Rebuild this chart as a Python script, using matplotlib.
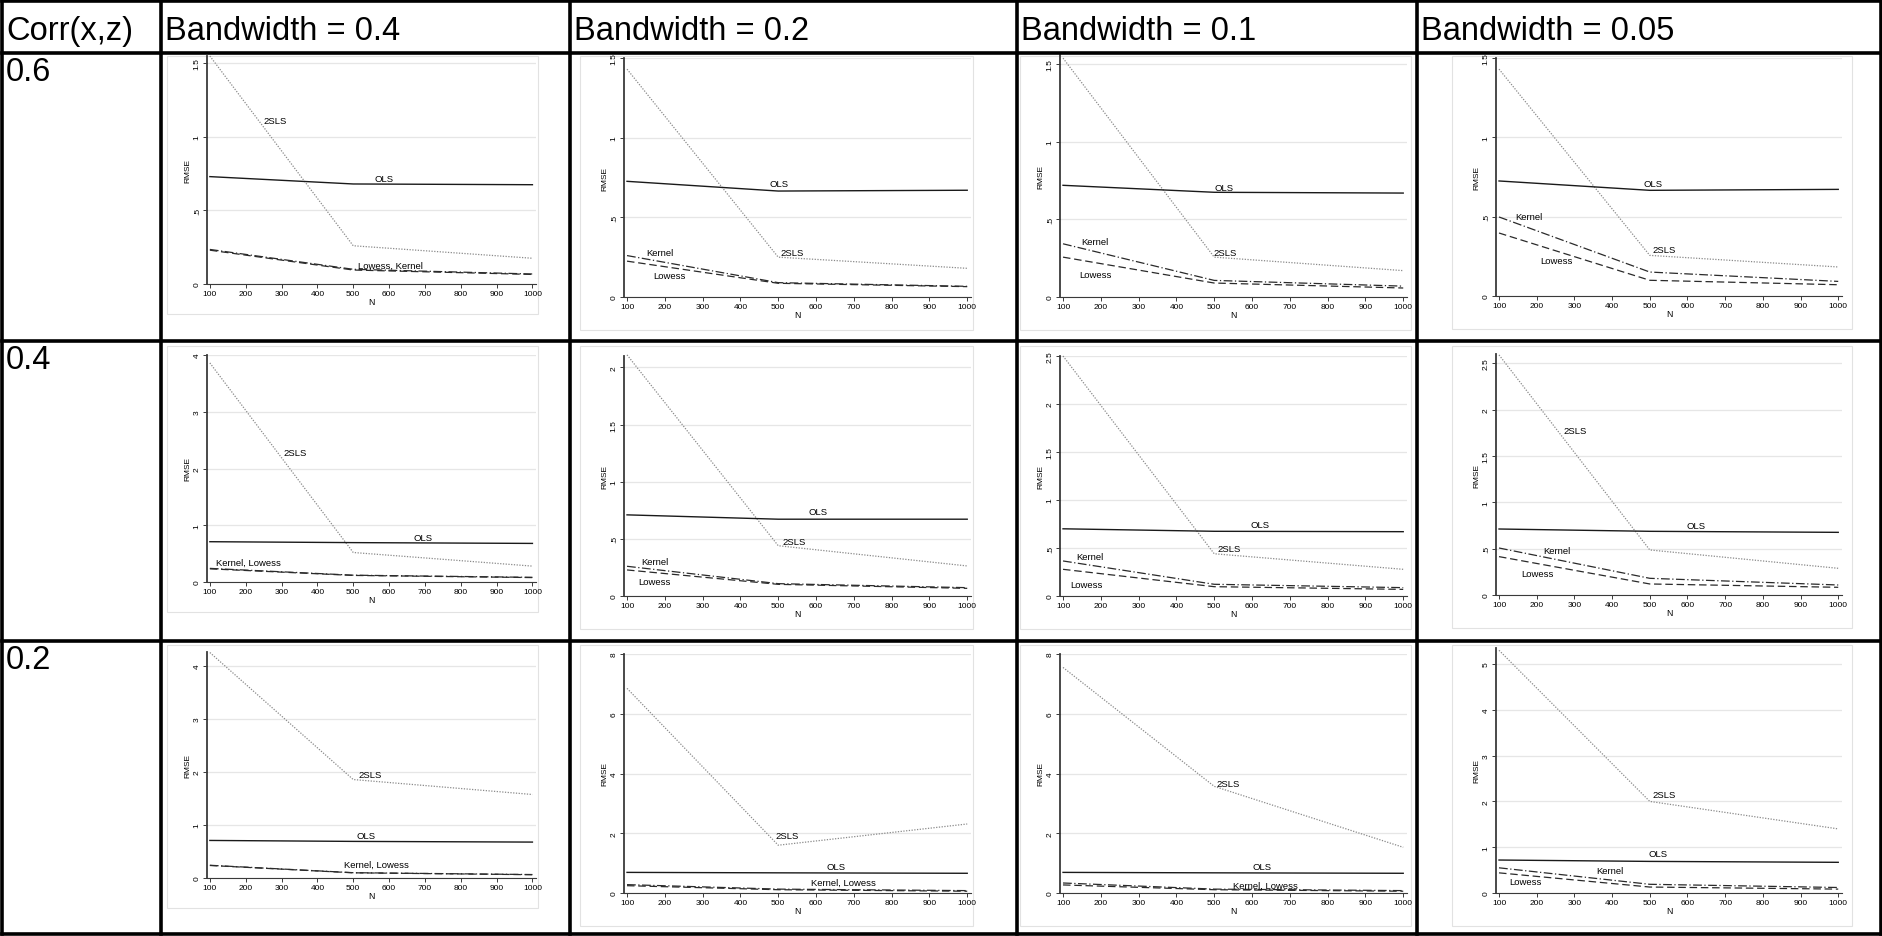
"""RMSE by sample size: grid of Stata-style panels inside a bordered table"""
import matplotlib
matplotlib.use('Agg')
import matplotlib.pyplot as plt
from matplotlib.lines import Line2D
from matplotlib.patches import Rectangle
from matplotlib.ticker import FuncFormatter

plt.rcParams['font.family'] = ['Liberation Sans', 'DejaVu Sans']

# ---- data (rows: Corr(x,z) = .6, .4, .2 ; cols: bandwidth .4, .2, .1, .05)
sample_n = [100, 500, 1000]
corr_labels = ['0.6', '0.4', '0.2']
bandwidth_labels = ['Bandwidth = 0.4', 'Bandwidth = 0.2',
                    'Bandwidth = 0.1', 'Bandwidth = 0.05']

tsls_rmse = [
    [[1.55, 0.26, 0.175], [1.43, 0.25, 0.18], [1.54, 0.257, 0.17], [1.43, 0.256, 0.183]],
    [[3.86, 0.52, 0.28], [2.11, 0.44, 0.263], [2.50, 0.44, 0.278], [2.59, 0.486, 0.288]],
    [[4.25, 1.856, 1.574], [6.85, 1.60, 2.31], [7.55, 3.57, 1.53], [5.30, 2.00, 1.40]],
]
ols_rmse = [
    [[0.73, 0.68, 0.675], [0.726, 0.665, 0.67], [0.72, 0.675, 0.67], [0.725, 0.666, 0.672]],
    [[0.71, 0.694, 0.68], [0.71, 0.672, 0.672], [0.70, 0.674, 0.67], [0.712, 0.687, 0.676]],
    [[0.708, 0.69, 0.677], [0.69, 0.675, 0.66], [0.69, 0.675, 0.66], [0.72, 0.69, 0.67]],
]
kernel_rmse = [
    [[0.235, 0.10, 0.068], [0.26, 0.09, 0.067], [0.343, 0.107, 0.07], [0.498, 0.151, 0.092]],
    [[0.24, 0.12, 0.082], [0.26, 0.108, 0.073], [0.365, 0.122, 0.087], [0.507, 0.18, 0.108]],
    [[0.24, 0.10, 0.065], [0.28, 0.13, 0.08], [0.335, 0.13, 0.08], [0.55, 0.19, 0.12]],
]
lowess_rmse = [
    [[0.23, 0.095, 0.065], [0.225, 0.086, 0.065], [0.257, 0.09, 0.058], [0.397, 0.099, 0.071]],
    [[0.232, 0.116, 0.078], [0.228, 0.102, 0.067], [0.278, 0.097, 0.069], [0.414, 0.119, 0.083]],
    [[0.236, 0.098, 0.062], [0.245, 0.11, 0.06], [0.27, 0.11, 0.06], [0.44, 0.13, 0.085]],
]

# ---- layout (pixels of the 1883x937 output)
W, H = 1883, 937


def fx(x):
    return x / W


def fy(y):
    return 1 - y / H


table_x = [2, 161, 570, 1017, 1417, 1881]
table_y = [2, 54, 342, 642, 935]

axes_x = [(207, 536), (624, 971), (1060, 1407), (1496, 1842)]
frame_x = [(167, 538), (580, 973), (1020, 1411), (1452, 1852)]
frame_top = [57, 347, 646]
# (bottom px, top px, ymax, ytick step)
axes_y = [
    [(285, 57, 1.55, 0.5), (298, 59, 1.5, 0.5), (298, 56, 1.56, 0.5), (297, 59, 1.5, 0.5)],
    [(583, 356, 4.0, 1), (597, 357, 2.1, 0.5), (597, 357, 2.5, 0.5), (596, 355, 2.6, 0.5)],
    [(879, 653, 4.26, 1), (894, 655, 8.0, 2), (894, 655, 8.0, 2), (894, 649, 5.35, 1)],
]
# text labels next to the lines, in data coordinates
line_labels = [
    [[('2SLS', 282, 1.11), ('OLS', 587, 0.72), ('Lowess, Kernel', 604, 0.125)],
     [('Kernel', 186, 0.28), ('Lowess', 213, 0.136), ('OLS', 503, 0.71), ('2SLS', 538, 0.28)],
     [('Kernel', 184, 0.36), ('Lowess', 186, 0.146), ('OLS', 526, 0.707), ('2SLS', 530, 0.29)],
     [('Kernel', 180, 0.5), ('Lowess', 252, 0.225), ('OLS', 509, 0.71), ('2SLS', 538, 0.294)]],
    [[('2SLS', 338, 2.28), ('OLS', 694, 0.78), ('Kernel, Lowess', 207, 0.35)],
     [('Kernel', 173, 0.3), ('Lowess', 173, 0.123), ('OLS', 605, 0.74), ('2SLS', 541, 0.48)],
     [('Kernel', 171, 0.41), ('Lowess', 162, 0.12), ('OLS', 622, 0.74), ('2SLS', 539, 0.49)],
     [('2SLS', 303, 1.77), ('OLS', 622, 0.75), ('Kernel', 254, 0.48), ('Lowess', 203, 0.23)]],
    [[('2SLS', 546, 1.95), ('OLS', 535, 0.8), ('Kernel, Lowess', 565, 0.25)],
     [('2SLS', 524, 1.92), ('OLS', 654, 0.9), ('Kernel, Lowess', 672, 0.36)],
     [('2SLS', 537, 3.68), ('OLS', 627, 0.89), ('Kernel, Lowess', 636, 0.27)],
     [('2SLS', 538, 2.15), ('OLS', 522, 0.87), ('Kernel', 395, 0.49), ('Lowess', 171, 0.26)]],
]


def stata_fmt(v, pos):
    s = '%g' % round(v, 3)
    if s.startswith('0.'):
        s = s[1:]
    return s


fig = plt.figure(figsize=(W / 100, H / 100), dpi=100)
fig.patch.set_facecolor('white')

# Stata graph frames and panels
for r in range(3):
    for c in range(4):
        b_px, t_px, ymax, step = axes_y[r][c]
        fl, fr = frame_x[c]
        ft = frame_top[r]
        fb = b_px + (30 if c == 0 else 33)
        fig.add_artist(Rectangle((fx(fl), fy(fb)), (fr - fl) / W, (fb - ft) / H,
                                 transform=fig.transFigure, facecolor='white',
                                 edgecolor='#e2e2e2', lw=0.8, zorder=0))

        l_px, r_px = axes_x[c]
        ax = fig.add_axes([fx(l_px), fy(b_px), (r_px - l_px) / W, (b_px - t_px) / H])
        ax.set_xlim(92, 1010)
        ax.set_ylim(0, ymax)

        ax.plot(sample_n, tsls_rmse[r][c], color='#8a8a8a', lw=0.9,
                ls=(0, (1, 1.2)), clip_on=False)
        ax.plot(sample_n, ols_rmse[r][c], color='#1a1a1a', lw=1.0, clip_on=False)
        ax.plot(sample_n, kernel_rmse[r][c], color='#2a2a2a', lw=0.9,
                ls=(0, (7, 2, 1, 2)), clip_on=False)
        ax.plot(sample_n, lowess_rmse[r][c], color='#2a2a2a', lw=0.9,
                ls=(0, (6, 3)), clip_on=False)

        for txt, x, y in line_labels[r][c]:
            ax.text(x, y, txt, fontsize=6.8, ha='center', va='center')

        ticks = []
        v = 0.0
        while v <= ymax + 1e-9:
            ticks.append(round(v, 3))
            v += step
        ax.set_yticks(ticks)
        ax.yaxis.set_major_formatter(FuncFormatter(stata_fmt))
        ax.set_xticks(range(100, 1001, 100))

        ax.yaxis.grid(True, color='#e6e6e6', lw=0.9)
        ax.set_axisbelow(True)
        for side in ('top', 'right'):
            ax.spines[side].set_visible(False)
        ax.spines['left'].set_color('#3a3a3a')
        ax.spines['left'].set_linewidth(1.3)
        ax.spines['bottom'].set_color('#3a3a3a')
        ax.spines['bottom'].set_linewidth(0.8)

        ax.tick_params(axis='both', direction='out', length=3, width=0.7,
                       color='#3a3a3a', labelsize=6, pad=1.5)
        for lab in ax.get_yticklabels():
            lab.set_rotation(90)
            lab.set_va('center')
        ax.set_ylabel('RMSE', fontsize=6, labelpad=2)
        ax.set_xlabel('N', fontsize=6.3, labelpad=0)
        ax.patch.set_alpha(0)

# table grid
for y in table_y:
    fig.add_artist(Line2D([fx(table_x[0]), fx(table_x[-1])], [fy(y), fy(y)],
                          transform=fig.transFigure, color='black', lw=2.6,
                          solid_capstyle='projecting'))
for x in table_x:
    fig.add_artist(Line2D([fx(x), fx(x)], [fy(table_y[0]), fy(table_y[-1])],
                          transform=fig.transFigure, color='black', lw=2.6,
                          solid_capstyle='projecting'))

# header and row labels
fig.text(fx(table_x[0] + 4), fy(40), 'Corr(x,z)', fontsize=23.5,
         va='baseline', ha='left')
for c, lab in enumerate(bandwidth_labels):
    fig.text(fx(table_x[c + 1] + 4), fy(40), lab, fontsize=23.5,
             va='baseline', ha='left')
for r, lab in enumerate(corr_labels):
    fig.text(fx(table_x[0] + 4), fy(table_y[r + 1] + 27), lab, fontsize=23.5,
             va='baseline', ha='left')

plt.savefig('out.png', dpi=100, facecolor='white')
